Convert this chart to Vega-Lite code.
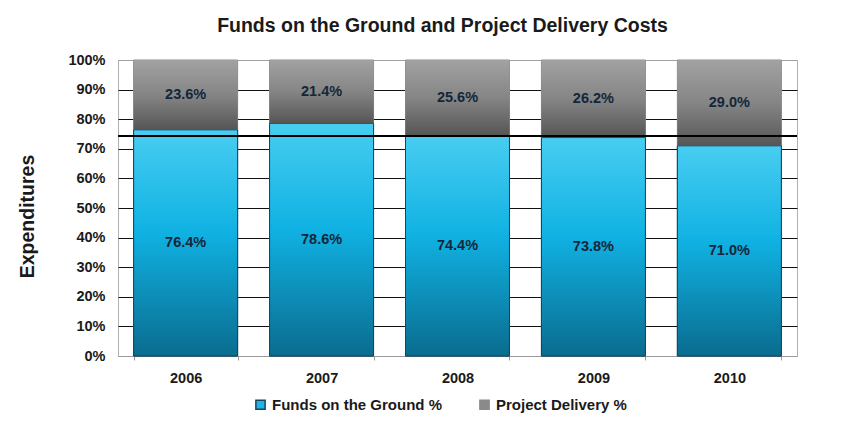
{
  "$schema": "https://vega.github.io/schema/vega-lite/v6.json",
  "width": 679,
  "height": 296,
  "autosize": {"type": "none"},
  "padding": {"left": 118, "top": 60, "right": 68, "bottom": 68},
  "background": "white",
  "title": {
    "text": "Funds on the Ground and Project Delivery Costs",
    "font": "Liberation Sans",
    "fontSize": 19.5,
    "fontWeight": "bold",
    "color": "#1a1a1a",
    "anchor": "middle",
    "offset": 16,
    "dx": -15
  },
  "config": {
    "view": {"stroke": "#b0b0b0", "strokeWidth": 1},
    "font": "Liberation Sans"
  },
  "data": {
    "values": [
      {"year": "2006", "category": "Funds on the Ground %", "value": 0.764},
      {"year": "2006", "category": "Project Delivery %", "value": 0.236},
      {"year": "2007", "category": "Funds on the Ground %", "value": 0.786},
      {"year": "2007", "category": "Project Delivery %", "value": 0.214},
      {"year": "2008", "category": "Funds on the Ground %", "value": 0.744},
      {"year": "2008", "category": "Project Delivery %", "value": 0.256},
      {"year": "2009", "category": "Funds on the Ground %", "value": 0.738},
      {"year": "2009", "category": "Project Delivery %", "value": 0.262},
      {"year": "2010", "category": "Funds on the Ground %", "value": 0.710},
      {"year": "2010", "category": "Project Delivery %", "value": 0.290}
    ]
  },
  "transform": [
    {"stack": "value", "groupby": ["year"], "as": ["v0", "v1"], "sort": [{"field": "category", "order": "ascending"}]}
  ],
  "encoding": {
    "x": {
      "field": "year",
      "type": "nominal",
      "scale": {"paddingInner": 0.235, "paddingOuter": 0.115},
      "axis": {
        "title": null,
        "labelAngle": 0,
        "labelFont": "Liberation Sans",
        "labelFontSize": 14.5,
        "labelFontWeight": "bold",
        "labelColor": "#1a1a1a",
        "labelPadding": 11,
        "domainColor": "#9a9a9a",
        "tickColor": "#9a9a9a",
        "tickBand": "extent",
        "tickSize": 4,
        "grid": false
      }
    },
    "y": {
      "field": "v0",
      "type": "quantitative",
      "scale": {"domain": [0, 1]},
      "axis": {
        "title": "Expenditures",
        "titleFont": "Liberation Sans",
        "titleFontSize": 19.5,
        "titleFontWeight": "bold",
        "titleColor": "#1a1a1a",
        "titlePadding": 30,
        "titleY": 156,
        "values": [0, 0.1, 0.2, 0.3, 0.4, 0.5, 0.6, 0.7, 0.8, 0.9, 1],
        "format": ".0%",
        "labelFont": "Liberation Sans",
        "labelFontSize": 14.5,
        "labelFontWeight": "bold",
        "labelColor": "#1a1a1a",
        "labelPadding": 13,
        "ticks": false,
        "domain": false,
        "grid": true,
        "gridColor": {"condition": {"test": "datum.value === 1 || datum.value === 0", "value": "#a0a0a0"}, "value": "#111111"},
        "gridWidth": 1.1
      }
    }
  },
  "layer": [
    {
      "mark": {"type": "bar", "strokeWidth": 1},
      "encoding": {
        "y2": {"field": "v1"},
        "color": {
          "field": "category",
          "type": "nominal",
          "scale": {
            "domain": ["Funds on the Ground %", "Project Delivery %"],
            "range": ["#1fb5e4", "#8a8a8a"]
          },
          "legend": {
            "title": null,
            "orient": "none",
            "legendX": 135,
            "legendY": 337,
            "direction": "horizontal",
            "columns": 2,
            "columnPadding": 34,
            "symbolType": "square",
            "symbolSize": 85,
            "labelFont": "Liberation Sans",
            "labelFontSize": 15,
            "labelFontWeight": "bold",
            "labelColor": "#1a1a1a",
            "labelOffset": 4,
            "labelLimit": 400
          }
        },
        "stroke": {
          "field": "category",
          "type": "nominal",
          "scale": {
            "domain": ["Funds on the Ground %", "Project Delivery %"],
            "range": ["#17455e", "#8a8a8a"]
          },
          "legend": null
        }
      }
    },
    {
      "transform": [{"filter": "datum.category === 'Funds on the Ground %'"}],
      "mark": {
        "type": "bar",
        "stroke": "#17455e",
        "strokeWidth": 1,
        "fill": {"gradient": "linear", "x1": 0, "y1": 0, "x2": 0, "y2": 1,
          "stops": [{"offset": 0, "color": "#48cdf1"}, {"offset": 0.45, "color": "#10b2e3"}, {"offset": 1, "color": "#0a6c8f"}]}
      },
      "encoding": {
        "y2": {"field": "v1"}
      }
    },
    {
      "transform": [{"filter": "datum.category === 'Project Delivery %'"}],
      "mark": {
        "type": "bar",
        "strokeWidth": 0,
        "fill": {"gradient": "linear", "x1": 0, "y1": 0, "x2": 0, "y2": 1,
          "stops": [{"offset": 0, "color": "#a2a2a2"}, {"offset": 0.5, "color": "#858585"}, {"offset": 1, "color": "#555555"}]}
      },
      "encoding": {
        "y2": {"field": "v1"}
      }
    },
    {
      "transform": [
        {"fold": ["v0", "v1"], "as": ["edge", "pos"]}
      ],
      "mark": {"type": "text", "font": "Liberation Sans", "fontSize": 14.5, "fontWeight": "bold", "baseline": "middle", "color": "#14273a"},
      "encoding": {
        "y": {"field": "pos", "aggregate": "mean", "type": "quantitative"},
        "detail": {"field": "category", "type": "nominal"},
        "text": {"field": "value", "type": "quantitative", "format": ".1%"}
      }
    },
    {
      "mark": {"type": "rule", "color": "#000000", "strokeWidth": 2},
      "encoding": {
        "y": {"datum": 0.743, "type": "quantitative"},
        "x": null
      }
    }
  ]
}
